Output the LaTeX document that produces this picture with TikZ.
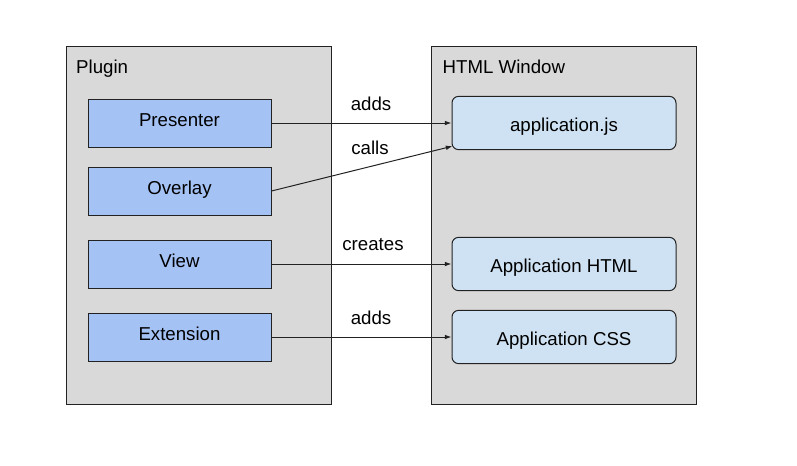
\documentclass[tikz,border=0pt]{standalone}
\usepackage{fontspec}
\setmainfont{Liberation Sans}
\usetikzlibrary{arrows.meta,positioning}
\definecolor{groupfill}{HTML}{D9D9D9}
\definecolor{pluginfill}{HTML}{A4C2F4}
\definecolor{windowfill}{HTML}{CFE2F3}
\definecolor{edgeline}{HTML}{222222}

\begin{document}
\begin{tikzpicture}[x=0.75pt,y=-0.75pt,font=\fontsize{14}{16}\selectfont,>={Latex[length=5pt,width=3.5pt]},
 group/.style={draw=edgeline,fill=groupfill,line width=0.75pt,minimum width=198.75pt,minimum height=268.5pt,inner sep=0pt},
 part/.style={draw=edgeline,fill=pluginfill,line width=0.75pt,minimum width=137.25pt,minimum height=36pt,text height=10pt,text depth=5pt},
 page/.style={draw=edgeline,fill=windowfill,line width=0.75pt,rounded corners=5pt,minimum width=168pt,minimum height=40pt,text height=12.2pt,text depth=0pt},
 link/.style={->,line width=0.75pt,edgeline}]
\useasboundingbox (0,0) rectangle (797,465);
% The two containers.
\node[group] (plugin) at (198.5,225) {};
\node[group] (window) at (564,225) {};
\node[anchor=base west] (plugintitle) at (71.5,73) {Plugin};
\node[anchor=base west] (windowtitle) at (438,73) {HTML Window};
% Plugin members.
\node[part] (presenter) at (179.5,123) {Presenter};
\node[part] (overlay) at (179.5,191) {Overlay};
\node[part] (view) at (179.5,264) {View};
\node[part] (extension) at (179.5,337) {Extension};
% Window contents.
\node[page] (appjs) at (564,123) {application.js};
\node[page] (apphtml) at (564,264) {Application HTML};
\node[page] (appcss) at (564,337) {Application CSS};
% Connectors and their labels.
\draw[link] (presenter.east) -- (appjs.west);
\draw[link] (overlay.east) -- ([shift={(1,-4)}]appjs.south west);
\draw[link] (view.east) -- (apphtml.west);
\draw[link] (extension.east) -- (appcss.west);
\node (addsjs) at (371,104) {adds};
\node (calls) at (370,148) {calls};
\node (creates) at (373,245) {creates};
\node (addscss) at (371,318) {adds};
\end{tikzpicture}
\end{document}
